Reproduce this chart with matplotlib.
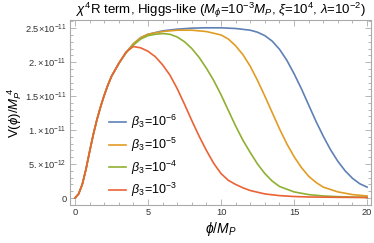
import matplotlib
matplotlib.use("Agg")
import matplotlib.pyplot as plt
from matplotlib.ticker import FixedLocator, FixedFormatter, MultipleLocator

plt.rcParams['font.family'] = ['Liberation Sans', 'DejaVu Sans']
plt.rcParams['mathtext.fontset'] = 'custom'
plt.rcParams['mathtext.rm'] = 'Liberation Sans'
plt.rcParams['mathtext.it'] = 'Liberation Sans:italic'
plt.rcParams['mathtext.bf'] = 'Liberation Sans:bold'

# ---- data (V in units of 1e-12 M_P^4) ----
rise_x = [0, 0.25, 0.5, 0.75, 1.0, 1.25, 1.5, 1.75, 2.0, 2.25, 2.5, 3.0]
rise_v = [0, 0.6, 2.0, 4.2, 6.8, 9.3, 11.5, 13.4, 15.1, 16.6, 17.9, 19.8]

red_x = [3.5, 4, 4.5, 5, 5.5, 6, 6.5, 7, 7.5, 8, 8.5, 9, 9.5, 10, 10.5, 11, 11.5, 12, 13, 14, 15, 16, 18, 20]
red_v = [21.5, 22.3, 22.1, 21.6, 20.8, 19.6, 18.1, 16.1, 13.8, 11.4, 9.1, 7.0, 5.1, 3.6, 2.6, 2.0, 1.5, 1.1, 0.6, 0.35, 0.22, 0.15, 0.1, 0.07]

green_x = [3.5, 4, 4.5, 5, 5.5, 6, 6.5, 7, 7.5, 8, 8.5, 9, 9.5, 10, 10.5, 11, 11.5, 12, 12.5, 13, 13.5, 14, 15, 16, 17, 18, 20]
green_v = [21.4, 22.5, 23.4, 23.9, 24.1, 24.2, 24.1, 23.7, 23.0, 22.0, 20.7, 19.1, 17.3, 15.2, 12.9, 10.6, 8.5, 6.7, 5.0, 3.6, 2.5, 1.7, 0.9, 0.5, 0.3, 0.2, 0.1]

orange_x = [3.5, 4, 4.5, 5, 6, 7, 8, 9, 10, 10.5, 11, 11.5, 12, 12.5, 13, 13.5, 14, 14.5, 15, 15.5, 16, 16.5, 17, 18, 19, 20]
orange_v = [21.4, 22.7, 23.6, 24.1, 24.5, 24.7, 24.7, 24.5, 24.0, 23.4, 22.4, 21.1, 19.4, 17.3, 15.0, 12.6, 10.2, 8.0, 6.1, 4.5, 3.2, 2.3, 1.6, 0.9, 0.5, 0.3]

blue_x = [3.5, 4, 4.5, 5, 6, 7, 8, 9, 10, 11, 12, 12.5, 13, 13.5, 14, 14.5, 15, 15.5, 16, 16.5, 17, 17.5, 18, 18.5, 19, 19.5, 20]
blue_v = [21.4, 22.7, 23.6, 24.1, 24.6, 24.85, 25.0, 25.05, 25.05, 24.95, 24.7, 24.4, 23.9, 23.1, 21.9, 20.3, 18.3, 16.1, 13.7, 11.3, 9.1, 7.1, 5.4, 4.0, 2.9, 2.1, 1.6]

labels = [r"$\beta_3\!=\!10^{-6}$", r"$\beta_3\!=\!10^{-5}$", r"$\beta_3\!=\!10^{-4}$", r"$\beta_3\!=\!10^{-3}$"]
colors = ["#5E81B5", "#E19C24", "#8FB032", "#EB6235"]

ytick_vals = [0, 5, 10, 15, 20, 25]
ytick_labels = ["0", r"$5.\!\times\!10^{-12}$", r"$1.\!\times\!10^{-11}$", r"$1.5\!\times\!10^{-11}$",
                r"$2.\!\times\!10^{-11}$", r"$2.5\!\times\!10^{-11}$"]
xtick_vals = [0, 5, 10, 15, 20]

fig = plt.figure(figsize=(3.74, 2.43), dpi=100)
ax = fig.add_axes([70/374, 1-205/243, 301/374, 185/243])

series = [(blue_x, blue_v), (orange_x, orange_v), (green_x, green_v), (red_x, red_v)]
for (xs, vs), c, lab in zip(series, colors, labels):
    ax.plot(rise_x + xs, rise_v + vs, color=c, lw=1.2, label=lab)

ax.set_xlim(-0.34, 20.27)
ax.set_ylim(-1.03, 26.2)

ax.xaxis.set_major_locator(FixedLocator(xtick_vals))
ax.xaxis.set_minor_locator(MultipleLocator(1))
ax.yaxis.set_major_locator(FixedLocator(ytick_vals))
ax.yaxis.set_major_formatter(FixedFormatter(ytick_labels))
ax.yaxis.set_minor_locator(MultipleLocator(1))

gray = "#aaaaaa"
for s in ax.spines.values():
    s.set_color(gray)
    s.set_linewidth(0.8)
ax.tick_params(which='both', direction='in', top=True, right=True, color=gray,
               labelsize=6.7, labelcolor="#333333", width=0.6)
ax.tick_params(which='major', length=4, pad=2.5)
ax.tick_params(which='minor', length=2)

ax.set_xlabel(r"$\phi/M_P$", fontsize=10, labelpad=2)
ax.set_ylabel(r"$\mathrm{V}(\phi)/M_P^{\ 4}$", fontsize=9.5)
ax.yaxis.set_label_coords(-0.152, 0.5)
ax.set_title(r"$\chi^4$R term, Higgs-like ($M_\phi$=10$^{-3}$$M_P$, $\xi$=10$^4$, $\lambda$=10$^{-2}$)",
             fontsize=9.5, pad=3)

leg = ax.legend(loc='upper left', bbox_to_anchor=(0.11, 0.53), frameon=False, fontsize=9,
                handlelength=1.3, handletextpad=0.4, labelspacing=0.35, borderpad=0)

fig.savefig("out.png", dpi=100)
